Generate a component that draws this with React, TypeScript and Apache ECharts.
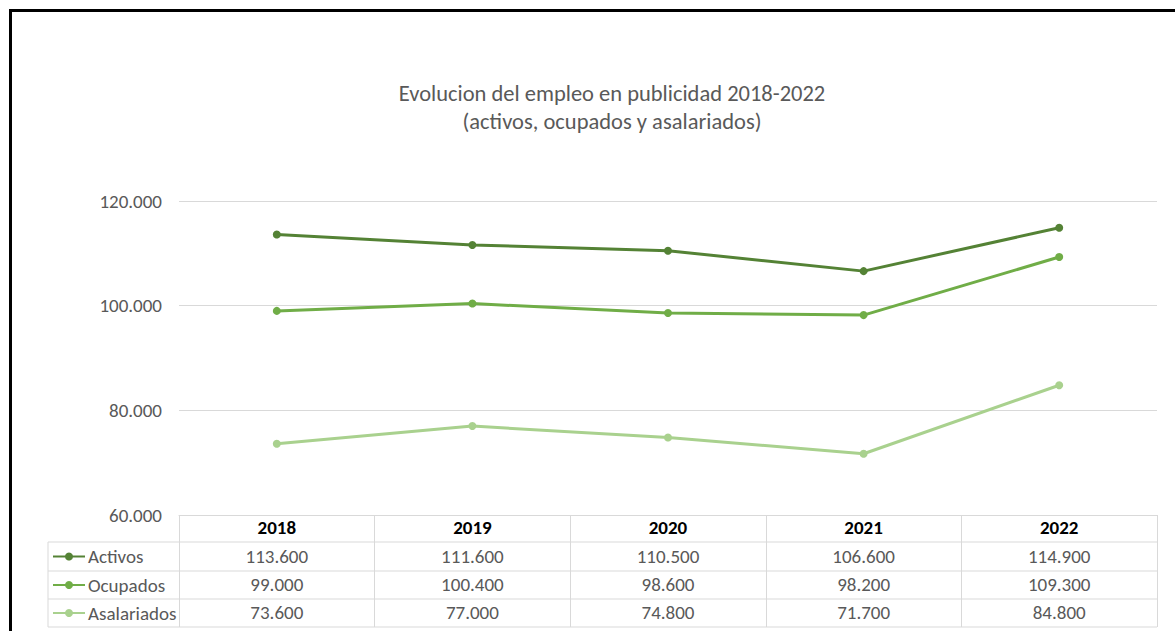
import React, { useEffect, useRef } from "react";
import * as echarts from "echarts";

const years = ["2018", "2019", "2020", "2021", "2022"];
const seriesNames = ["Activos", "Ocupados", "Asalariados"];
const activos = [113600, 111600, 110500, 106600, 114900];
const ocupados = [99000, 100400, 98600, 98200, 109300];
const asalariados = [73600, 77000, 74800, 71700, 84800];
const colors = ["#548235", "#70AD47", "#A9D18E"];
const titleLines = ["Evolucion del empleo en publicidad 2018-2022", "(activos, ocupados y asalariados)"];

const fmt = (n: number) => String(n).replace(/\B(?=(\d{3})+(?!\d))/g, ".");
const FONT = "Carlito, 'Open Sans', sans-serif";

export default function App() {
  const ref = useRef<HTMLDivElement>(null);
  useEffect(() => {
    if (!ref.current) return;
    const chart = echarts.init(ref.current, undefined, { renderer: "svg" });
    const data = [activos, ocupados, asalariados];
    const gridL = 179, gridR = 1157, gridB = 515;
    const rowOffsets = [28.5, 57, 85];
    const rowLines = [542, 571, 599, 627];
    const rowCenters = [556.5, 585, 613];
    const fs = 19;
    const option: any = {
      animation: false,
      backgroundColor: "#ffffff",
      textStyle: { fontFamily: FONT },
      grid: { left: gridL, right: 1175 - gridR, top: 201, bottom: 631 - gridB, containLabel: false },
      legend: seriesNames.map((name, i) => ({
        data: [name],
        left: 52,
        top: rowCenters[i] - 11,
        padding: 0,
        itemWidth: 32,
        itemHeight: 10,
        itemGap: 0,
        textStyle: { fontFamily: FONT, fontSize: fs, color: "#595959", lineHeight: 22, padding: [0, 0, 0, -2] },
      })),
      xAxis: [
        {
          type: "category",
          data: years,
          boundaryGap: true,
          position: "bottom",
          axisLine: { show: true, lineStyle: { color: "#d9d9d9", width: 1 } },
          axisTick: { show: true, interval: 0, length: 112, lineStyle: { color: "#d9d9d9", width: 1 } },
          axisLabel: { interval: 0, margin: 3, fontFamily: FONT, fontSize: fs, fontWeight: "bold", color: "#000000" },
        },
        ...data.map((vals, i) => ({
          type: "category",
          data: years,
          boundaryGap: true,
          position: "bottom",
          offset: rowOffsets[i],
          axisLine: { show: false },
          axisTick: { show: false },
          axisLabel: {
            interval: 0,
            margin: 3,
            fontFamily: FONT,
            fontSize: fs,
            color: "#595959",
            formatter: (_v: string, idx: number) => fmt(vals[idx]),
          },
        })),
      ],
      yAxis: {
        type: "value",
        min: 60000,
        max: 120000,
        interval: 20000,
        axisLine: { show: false },
        axisTick: { show: false },
        splitLine: { lineStyle: { color: "#d9d9d9", width: 1 } },
        axisLabel: { margin: 17, fontFamily: FONT, fontSize: fs, color: "#595959", formatter: (v: number) => fmt(v) },
      },
      series: data.map((vals, i) => ({
        name: seriesNames[i],
        type: "line",
        data: vals,
        symbol: "circle",
        symbolSize: 8,
        lineStyle: { color: colors[i], width: 3 },
        itemStyle: { color: colors[i] },
      })),
      graphic: [
        ...titleLines.map((t, i) => ({
          type: "text",
          x: 612,
          y: 93 + i * 28,
          style: { text: t, fontFamily: FONT, fontSize: 22.5, fill: "#595959", textAlign: "center", textVerticalAlign: "middle" },
        })),
        ...rowLines.map((y) => ({
          type: "line",
          shape: { x1: 48, y1: y, x2: gridR, y2: y },
          style: { stroke: "#d9d9d9", lineWidth: 1 },
        })),
        {
          type: "line",
          shape: { x1: 48, y1: rowLines[0], x2: 48, y2: rowLines[3] },
          style: { stroke: "#d9d9d9", lineWidth: 1 },
        },
        {
          type: "rect",
          shape: { x: 10.5, y: 10.5, width: 1300, height: 800 },
          style: { fill: "none", stroke: "#000000", lineWidth: 3 },
          z: 100,
        },
      ],
    };
    chart.setOption(option);
    return () => chart.dispose();
  }, []);
  return (
    <div
      ref={ref}
      style={{ position: "absolute", left: 0, top: 0, width: 1175, height: 631, background: "#ffffff" }}
    />
  );
}
